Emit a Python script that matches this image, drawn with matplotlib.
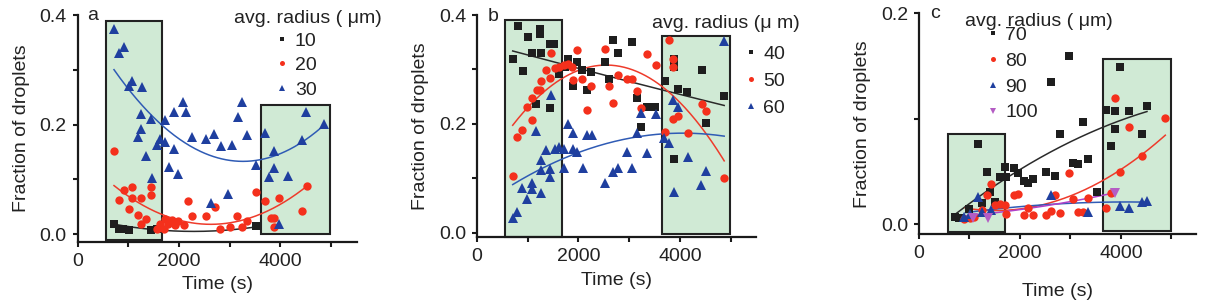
import numpy as np
import matplotlib
matplotlib.use("Agg")
import matplotlib.pyplot as plt
from matplotlib.patches import Rectangle
from matplotlib.ticker import FixedLocator

plt.rcParams['font.family'] = ['Liberation Sans', 'DejaVu Sans']

# ---------------- Panel a data ----------------
a10_t = [720, 812, 897, 1009, 1442, 1573, 3525]
a10_v = [0.019, 0.010, 0.009, 0.007, 0.007, 0.009, 0.015]
a20_t = [720, 910, 812, 1081, 1081, 1009, 1258, 1193, 1357, 1258, 1442, 1442, 1620, 1731,
         1698, 1784, 1870, 1981, 1915, 2093, 2178, 2264, 2539, 2802, 2704, 3000, 3150, 3249,
         3348, 3525, 3709, 3820, 3886, 3886, 3972, 4432, 4530, 1567]
a20_v = [0.151, 0.080, 0.063, 0.085, 0.065, 0.045, 0.065, 0.035, 0.027, 0.019, 0.086, 0.071,
         0.019, 0.027, 0.010, 0.019, 0.026, 0.023, 0.016, 0.016, 0.061, 0.033, 0.033, 0.010,
         0.050, 0.012, 0.033, 0.012, 0.023, 0.077, 0.061, 0.029, 0.029, 0.013, 0.065, 0.042,
         0.088, 0.010]
a30_t = [720, 910, 818, 1081, 1009, 1271, 1258, 1442, 1718, 1258, 1193, 1620, 1567, 1357,
         1469, 1718, 1902, 2080, 2145, 1902, 1797, 1981, 2264, 2526, 2691, 2822, 3052, 3164,
         3249, 3348, 2967, 2625, 3525, 3709, 3886, 3886, 3788, 4149, 3972, 4510, 4432, 4872]
a30_v = [0.375, 0.342, 0.331, 0.279, 0.270, 0.268, 0.219, 0.211, 0.208, 0.191, 0.178, 0.173,
         0.162, 0.143, 0.102, 0.168, 0.223, 0.241, 0.223, 0.156, 0.123, 0.109, 0.178, 0.173,
         0.182, 0.161, 0.162, 0.214, 0.241, 0.181, 0.074, 0.056, 0.126, 0.184, 0.151, 0.120,
         0.105, 0.106, 0.018, 0.223, 0.172, 0.201]
# fitted curves (points read on the drawn fit lines)
a10_fit_t = [720, 2100, 3525]
a10_fit_v = [0.018, 0.005, 0.013]
a20_fit_t = [720, 1720, 2967, 4530]
a20_fit_v = [0.088, 0.035, 0.019, 0.088]
a30_fit_t = [720, 1718, 2638, 3300, 4872]
a30_fit_v = [0.297, 0.202, 0.141, 0.129, 0.201]
a_boxes = [(565, 1665, -0.010, 0.389), (3615, 4985, 0.000, 0.235)]

# ---------------- Panel b data ----------------
b40_t = [816, 717, 901, 1000, 1079, 1243, 1243, 1256, 1440, 1526, 1625, 1164, 1440, 1802,
         1737, 1980, 1901, 2065, 2164, 2250, 2525, 2690, 2788, 3052, 2611, 3150, 3347, 3512,
         3236, 3709, 3893, 3893, 3972, 4136, 4432, 4518, 4873, 3893]
b40_v = [0.380, 0.319, 0.297, 0.360, 0.330, 0.374, 0.366, 0.330, 0.346, 0.346, 0.291, 0.236,
         0.229, 0.320, 0.305, 0.314, 0.269, 0.299, 0.262, 0.296, 0.313, 0.355, 0.331, 0.351,
         0.282, 0.247, 0.232, 0.232, 0.194, 0.278, 0.319, 0.304, 0.264, 0.259, 0.299, 0.201,
         0.251, 0.135]
b50_t = [717, 796, 895, 993, 1079, 1079, 1178, 1243, 1263, 1355, 1454, 1440, 1539, 1625,
         1717, 1802, 1868, 1901, 1980, 2065, 2164, 2250, 2525, 2611, 2690, 2788, 2953, 3052,
         3150, 3236, 3347, 3525, 3794, 3873, 3873, 3873, 3972, 3709, 4150, 4432, 4518, 4873]
b50_v = [0.105, 0.177, 0.189, 0.232, 0.247, 0.207, 0.262, 0.262, 0.278, 0.299, 0.331, 0.284,
         0.302, 0.304, 0.308, 0.310, 0.304, 0.281, 0.336, 0.282, 0.226, 0.270, 0.337, 0.269,
         0.239, 0.289, 0.282, 0.282, 0.261, 0.230, 0.328, 0.309, 0.355, 0.320, 0.305, 0.210,
         0.215, 0.186, 0.184, 0.236, 0.223, 0.100]
b60_t = [717, 796, 895, 993, 1079, 1079, 1164, 1263, 1263, 1263, 1355, 1440, 1440, 1454,
         1539, 1625, 1717, 1717, 1802, 1901, 1901, 1980, 2085, 2164, 2262, 2525, 2690, 2788,
         2953, 3052, 3150, 3236, 3347, 3525, 3696, 3794, 3873, 3972, 3893, 4150, 4419, 4518,
         4873]
b60_v = [0.027, 0.039, 0.082, 0.062, 0.092, 0.080, 0.188, 0.074, 0.134, 0.116, 0.152, 0.117,
         0.103, 0.254, 0.154, 0.157, 0.154, 0.119, 0.200, 0.184, 0.154, 0.149, 0.119, 0.179,
         0.179, 0.092, 0.111, 0.120, 0.149, 0.119, 0.183, 0.220, 0.146, 0.218, 0.175, 0.166,
         0.244, 0.232, 0.076, 0.140, 0.088, 0.113, 0.353]
b40_fit_t = [704, 2624, 4873]
b40_fit_v = [0.334, 0.287, 0.234]
b50_fit_t = [704, 1670, 2624, 4873]
b50_fit_v = [0.195, 0.290, 0.303, 0.133]
b60_fit_t = [704, 1670, 3150, 4873]
b60_fit_v = [0.088, 0.137, 0.175, 0.178]
b_boxes = [(560, 1675, -0.008, 0.390), (3643, 4995, -0.002, 0.362)]

# ---------------- Panel c data ----------------
c70_t = [707, 799, 984, 1248, 1169, 1347, 1413, 1512, 1598, 1697, 1723, 1875, 1961, 2073,
         2159, 2251, 2522, 2700, 2614, 2799, 2964, 3050, 3149, 3241, 3347, 3525, 3710, 3796,
         3888, 3888, 3974, 4152, 4416, 4515]
c70_v = [0.0072, 0.0057, 0.0142, 0.0199, 0.0761, 0.0499, 0.0309, 0.0208, 0.0451, 0.0547,
         0.0451, 0.0537, 0.0490, 0.0414, 0.0388, 0.0426, 0.0493, 0.0461, 0.1346, 0.0855,
         0.1598, 0.0584, 0.0569, 0.0973, 0.0616, 0.0309, 0.1084, 0.0742, 0.1074, 0.0903,
         0.1488, 0.1074, 0.0856, 0.1121]
c80_t = [885, 1017, 1083, 1248, 1347, 1433, 1512, 1598, 1697, 1723, 1875, 1961, 2073, 2159,
         2251, 2522, 2614, 2700, 2799, 2964, 3050, 3149, 3241, 3347, 3710, 3796, 3888, 3974,
         4152, 4416, 4878]
c80_v = [0.0047, 0.0057, 0.0073, 0.0136, 0.0280, 0.0380, 0.0180, 0.0190, 0.0180, 0.0096,
         0.0280, 0.0290, 0.0088, 0.0151, 0.0088, 0.0088, 0.0129, 0.0278, 0.0104, 0.0490,
         0.0237, 0.0120, 0.0120, 0.0247, 0.0151, 0.0294, 0.1200, 0.0499, 0.0920, 0.0647,
         0.1010]
c90_t = [885, 1017, 1169, 1248, 1433, 2614, 3347, 3974, 4152, 4416, 4515]
c90_v = [0.0073, 0.0095, 0.0260, 0.0120, 0.0136, 0.0278, 0.0120, 0.0177, 0.0151, 0.0215,
         0.0224]
c100_t = [1069, 1366, 3875]
c100_v = [0.0057, 0.0057, 0.0300]
c70_fit_t = [707, 1974, 3228, 4515]
c70_fit_v = [0.009, 0.0515, 0.083, 0.107]
c80_fit_t = [918, 1500, 2500, 3974, 4878]
c80_fit_v = [0.0151, 0.013, 0.020, 0.050, 0.085]
c90_fit_t = [918, 2640, 4515]
c90_fit_v = [0.011, 0.019, 0.021]
c100_fit_t = [918, 2400, 3888]
c100_fit_v = [0.008, 0.0167, 0.030]
c_boxes = [(580, 1697, -0.007, 0.086), (3638, 4995, -0.006, 0.157)]

# ---------------- styling ----------------
C_BLACK = '#1e1e1e'
C_RED = '#f4301c'
C_BLUE = '#1f3f9f'
C_PURPLE = '#b45cc4'
L_BLACK = '#2a2a2a'
L_RED = '#ee3b2b'
L_BLUE = '#2f5bb5'
L_PURPLE = '#b040c8'
GREEN = '#d0ead5'
FS = 14

fig = plt.figure(figsize=(12.1, 3.07), dpi=100)


def style_axes(ax, xlim, ylim, yticks, yminor, ylabels, xpad=5):
    ax.set_xlim(*xlim)
    ax.set_ylim(*ylim)
    for s in ['top', 'right']:
        ax.spines[s].set_visible(False)
    for s in ['left', 'bottom']:
        ax.spines[s].set_linewidth(1.6)
        ax.spines[s].set_color('#1a1a1a')
    ax.xaxis.set_major_locator(FixedLocator([0, 2000, 4000]))
    ax.xaxis.set_minor_locator(FixedLocator([1000, 3000, 5000]))
    ax.yaxis.set_major_locator(FixedLocator(yticks))
    ax.yaxis.set_minor_locator(FixedLocator(yminor))
    ax.set_yticklabels(ylabels)
    ax.set_xticklabels(['0', '2000', '4000'])
    ax.tick_params(which='both', direction='out', length=3.8, width=1.5,
                   color='#1a1a1a', labelsize=FS, labelcolor='#222222', pad=4)
    ax.set_xlabel('Time (s)', fontsize=FS, color='#222222', labelpad=xpad)
    ax.set_ylabel('Fraction of droplets', fontsize=FS, color='#222222', labelpad=7)


def add_boxes(ax, boxes):
    for x0, x1, y0, y1 in boxes:
        ax.add_patch(Rectangle((x0, y0), x1 - x0, y1 - y0, facecolor=GREEN,
                               edgecolor='#222222', linewidth=1.5, zorder=1,
                               clip_on=False))


def fit_line(ax, t, v, color):
    coef = np.polyfit(t, v, 2)
    tt = np.linspace(min(t), max(t), 200)
    ax.plot(tt, np.polyval(coef, tt), color=color, lw=1.1, zorder=3)


def scatter(ax, t, v, marker, color, ms, label):
    h, = ax.plot(t, v, linestyle='none', marker=marker, color=color,
                 markersize=ms, markeredgewidth=0, zorder=4, label=label)
    return h


LEG = dict(loc='upper left', frameon=False, fontsize=FS, markerscale=0.6,
           handlelength=0.6, handletextpad=0.35, borderpad=0, borderaxespad=0,
           labelcolor='#222222')

# ---- Panel a ----
axa = fig.add_axes([0.06405, 0.2127, 0.2310, 0.7384])
add_boxes(axa, a_boxes)
h1 = scatter(axa, a10_t, a10_v, 's', C_BLACK, 5.5, '10')
h2 = scatter(axa, a20_t, a20_v, 'o', C_RED, 6, '20')
h3 = scatter(axa, a30_t, a30_v, '^', C_BLUE, 6.5, '30')
fit_line(axa, a10_fit_t, a10_fit_v, L_BLACK)
fit_line(axa, a20_fit_t, a20_fit_v, L_RED)
fit_line(axa, a30_fit_t, a30_fit_v, L_BLUE)
style_axes(axa, (0, 5515), (-0.014, 0.4), [0, 0.2, 0.4], [0.1, 0.3], ['0.0', '0.2', '0.4'])
axa.text(0.034, 1.0, 'a', transform=axa.transAxes, fontsize=FS, va='center', ha='left',
         color='#222222')
axa.text(1.089, 0.985, 'avg. radius ( \u03bcm)', transform=axa.transAxes, fontsize=FS,
         va='center', ha='right', color='#222222')
axa.legend(handles=[h1, h2, h3], bbox_to_anchor=(0.712, 0.925), labelspacing=0.36, **LEG)

# ---- Panel b ----
axb = fig.add_axes([0.3942, 0.2270, 0.2306, 0.7241])
add_boxes(axb, b_boxes)
g1 = scatter(axb, b40_t, b40_v, 's', C_BLACK, 5.5, '40')
g2 = scatter(axb, b50_t, b50_v, 'o', C_RED, 6, '50')
g3 = scatter(axb, b60_t, b60_v, '^', C_BLUE, 6.5, '60')
fit_line(axb, b40_fit_t, b40_fit_v, L_BLACK)
fit_line(axb, b50_fit_t, b50_fit_v, L_RED)
fit_line(axb, b60_fit_t, b60_fit_v, L_BLUE)
style_axes(axb, (0, 5500), (-0.008, 0.4), [0, 0.2, 0.4], [0.1, 0.3], ['0.0', '0.2', '0.4'])
axb.text(0.039, 0.995, 'b', transform=axb.transAxes, fontsize=FS, va='center', ha='left',
         color='#222222')
axb.text(1.158, 0.964, 'avg. radius (\u03bc m)', transform=axb.transAxes, fontsize=FS,
         va='center', ha='right', color='#222222')
axb.legend(handles=[g1, g2, g3], bbox_to_anchor=(0.96, 0.865), labelspacing=0.48, **LEG)

# ---- Panel c ----
axc = fig.add_axes([0.7595, 0.2368, 0.2289, 0.7199])
add_boxes(axc, c_boxes)
k1 = scatter(axc, c70_t, c70_v, 's', C_BLACK, 5.5, '70')
k2 = scatter(axc, c80_t, c80_v, 'o', C_RED, 6, '80')
k3 = scatter(axc, c90_t, c90_v, '^', C_BLUE, 6.5, '90')
k4 = scatter(axc, c100_t, c100_v, 'v', C_PURPLE, 6.5, '100')
fit_line(axc, c70_fit_t, c70_fit_v, L_BLACK)
fit_line(axc, c80_fit_t, c80_fit_v, L_RED)
fit_line(axc, c90_fit_t, c90_fit_v, L_BLUE)
fit_line(axc, c100_fit_t, c100_fit_v, L_PURPLE)
style_axes(axc, (0, 5485), (-0.0095, 0.2), [0, 0.2], [0.1], ['0.0', '0.2'], xpad=15)
axc.text(0.04, 1.0, 'c', transform=axc.transAxes, fontsize=FS, va='center', ha='left',
         color='#222222')
axc.text(0.166, 0.965, 'avg. radius ( \u03bcm)', transform=axc.transAxes, fontsize=FS,
         va='center', ha='left', color='#222222')
axc.legend(handles=[k1, k2, k3, k4], bbox_to_anchor=(0.245, 0.94), labelspacing=0.42, **LEG)

fig.savefig('out.png', dpi=100)
